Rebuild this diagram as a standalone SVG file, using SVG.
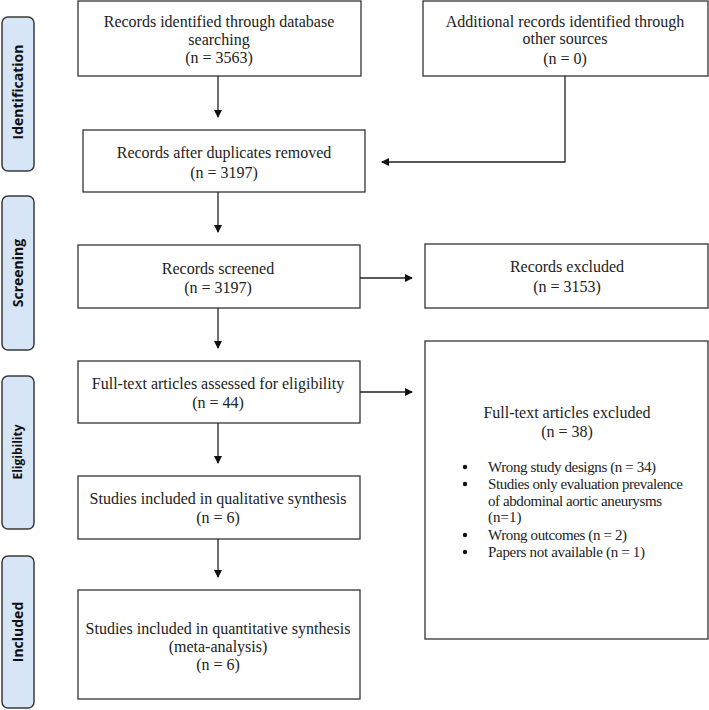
<svg xmlns="http://www.w3.org/2000/svg" width="709" height="710" viewBox="0 0 709 710">
<style>
.box{fill:#fff;stroke:#333;stroke-width:1.3}
.side{fill:#d6e6f7;stroke:#3a3a3a;stroke-width:1.5}
.t{font-family:"Liberation Serif","Times New Roman",serif;font-size:16px;fill:#222;text-anchor:middle}
.b{font-family:"Liberation Serif","Times New Roman",serif;font-size:15px;fill:#222}
.s{font-family:"Open Sans","DejaVu Sans",sans-serif;font-weight:bold;font-size:14px;fill:#111;text-anchor:middle}
.c{fill:none;stroke:#222;stroke-width:1.3}
</style>
<defs>
<marker id="ah" markerWidth="8" markerHeight="8" refX="7" refY="4" orient="auto" markerUnits="userSpaceOnUse">
<path d="M0,0 L8,4 L0,8 Z" fill="#111"/>
</marker>
</defs>
<rect width="709" height="710" fill="#fff"/>

<g id="lbl-identification"><rect class="side" x="2" y="17" width="32" height="154" rx="6"/><text class="s" transform="translate(23,92) rotate(-90)">Identification</text></g>
<g id="lbl-screening"><rect class="side" x="2" y="196" width="32" height="154" rx="6"/><text class="s" transform="translate(23,273) rotate(-90)">Screening</text></g>
<g id="lbl-eligibility"><rect class="side" x="2" y="376" width="32" height="153" rx="6"/><text class="s" style="font-size:12px" transform="translate(22,452) rotate(-90)">Eligibility</text></g>
<g id="lbl-included"><rect class="side" x="2" y="556" width="32" height="152" rx="6"/><text class="s" transform="translate(23,632) rotate(-90)">Included</text></g>

<g id="n-db"><rect class="box" x="78" y="1" width="283" height="75"/>
<text class="t" x="219" y="27">Records identified through database</text>
<text class="t" x="219" y="45">searching</text>
<text class="t" x="219" y="63">(n = 3563)</text></g>

<g id="n-other"><rect class="box" x="423" y="1" width="285" height="75"/>
<text class="t" x="565" y="27">Additional records identified through</text>
<text class="t" x="565" y="44">other sources</text>
<text class="t" x="565" y="64">(n = 0)</text></g>

<g id="n-dup"><rect class="box" x="83" y="130" width="282" height="62"/>
<text class="t" x="224" y="158">Records after duplicates removed</text>
<text class="t" x="224" y="178">(n = 3197)</text></g>

<g id="n-screened"><rect class="box" x="78" y="245" width="282" height="63"/>
<text class="t" x="218" y="274">Records screened</text>
<text class="t" x="218" y="293">(n = 3197)</text></g>

<g id="n-excl"><rect class="box" x="425" y="244" width="283" height="64"/>
<text class="t" x="567" y="272">Records excluded</text>
<text class="t" x="567" y="292">(n = 3153)</text></g>

<g id="n-fulltext"><rect class="box" x="78" y="361" width="282" height="62"/>
<text class="t" x="218" y="389">Full-text articles assessed for eligibility</text>
<text class="t" x="218" y="408">(n = 44)</text></g>

<g id="n-ftexcl"><rect class="box" x="425" y="341" width="283" height="298"/>
<text class="t" x="567" y="418">Full-text articles excluded</text>
<text class="t" x="567" y="437">(n = 38)</text>
<circle cx="465" cy="467" r="2.2" fill="#111"/>
<circle cx="465" cy="484" r="2.2" fill="#111"/>
<circle cx="465" cy="535" r="2.2" fill="#111"/>
<circle cx="465" cy="552" r="2.2" fill="#111"/>
<text class="b" x="488" y="472" textLength="168">Wrong study designs (n = 34)</text>
<text class="b" x="488" y="489" textLength="195">Studies only evaluation prevalence</text>
<text class="b" x="488" y="506" textLength="174">of abdominal aortic aneurysms</text>
<text class="b" x="488" y="522">(n=1)</text>
<text class="b" x="488" y="540" textLength="139">Wrong outcomes (n = 2)</text>
<text class="b" x="488" y="557" textLength="157">Papers not available (n = 1)</text></g>

<g id="n-qual"><rect class="box" x="78" y="476" width="282" height="63"/>
<text class="t" x="218" y="504">Studies included in qualitative synthesis</text>
<text class="t" x="218" y="523">(n = 6)</text></g>

<g id="n-quant"><rect class="box" x="78" y="590" width="282" height="109"/>
<text class="t" x="218" y="634">Studies included in quantitative synthesis</text>
<text class="t" x="218" y="652">(meta-analysis)</text>
<text class="t" x="218" y="670">(n = 6)</text></g>

<g id="connectors">
<line class="c" x1="218" y1="76" x2="218" y2="117" marker-end="url(#ah)"/>
<polyline class="c" points="565,76 565,162 382,162" marker-end="url(#ah)"/>
<line class="c" x1="218" y1="192" x2="218" y2="232" marker-end="url(#ah)"/>
<line class="c" x1="360" y1="278" x2="412" y2="278" marker-end="url(#ah)"/>
<line class="c" x1="218" y1="308" x2="218" y2="348" marker-end="url(#ah)"/>
<line class="c" x1="360" y1="392" x2="412" y2="392" marker-end="url(#ah)"/>
<line class="c" x1="218" y1="423" x2="218" y2="463" marker-end="url(#ah)"/>
<line class="c" x1="218" y1="539" x2="218" y2="577" marker-end="url(#ah)"/>
</g>
</svg>
